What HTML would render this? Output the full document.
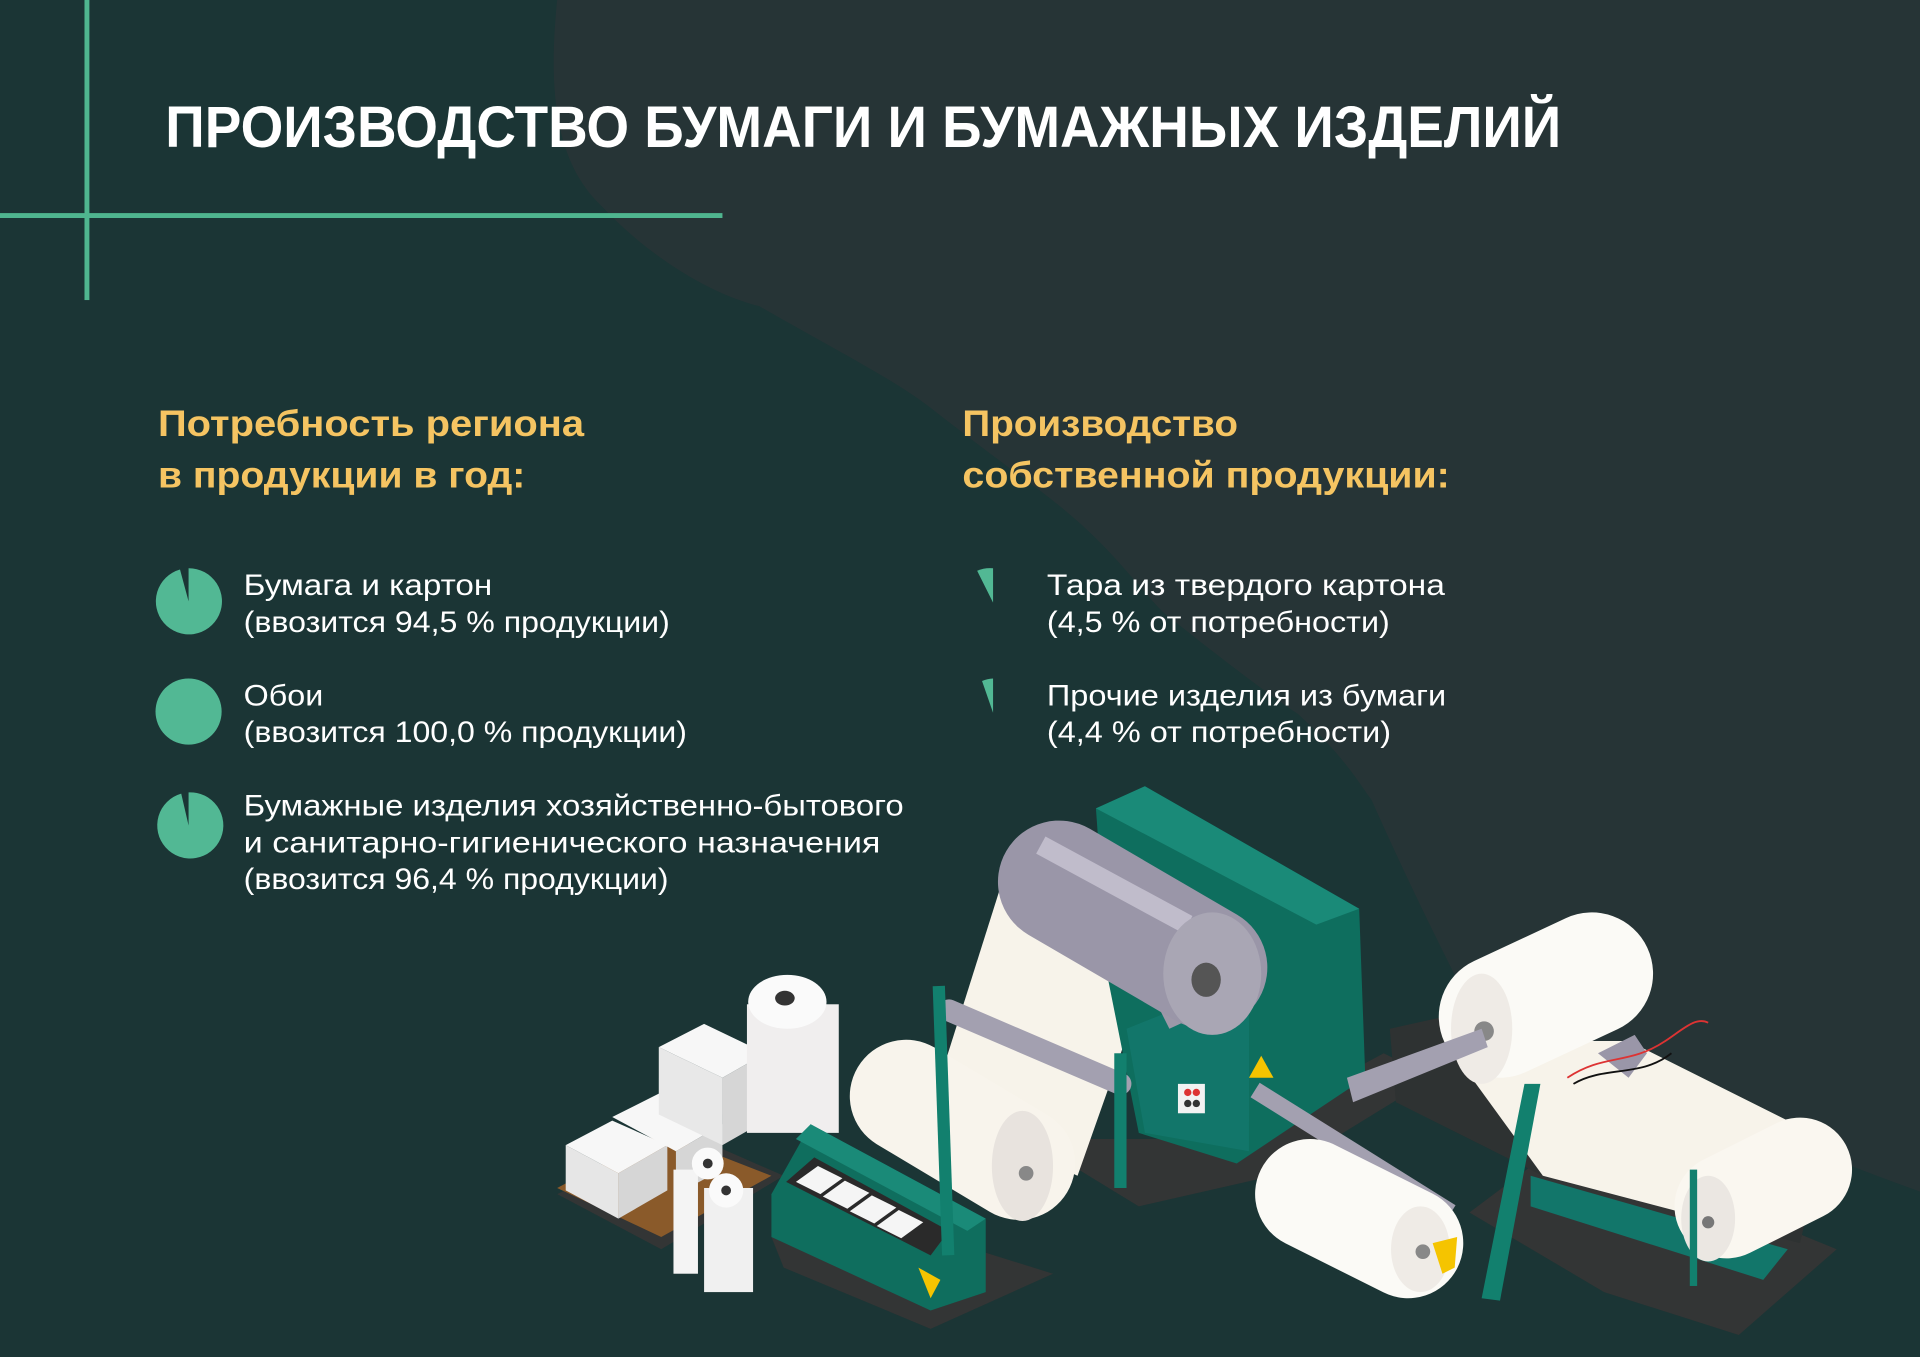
<!DOCTYPE html>
<html><head><meta charset="utf-8"><style>
html,body{margin:0;padding:0;background:#1b3535;}
svg{display:block}
text{font-family:"Liberation Sans",sans-serif}
</style></head><body>
<svg width="1920" height="1357" viewBox="0 0 1568 1108" preserveAspectRatio="none" xmlns="http://www.w3.org/2000/svg">
<rect width="1568" height="1108" fill="#1b3535"/>
<path d="M455,0 C448,70 452,130 490,167 C530,210 580,240 620,250 C690,290 730,310 760,333 C820,380 850,400 870,417 C910,450 930,480 950,500 C1000,540 1040,570 1060,583 C1100,620 1110,640 1120,653 C1150,720 1170,760 1190,800 C1300,870 1450,930 1568,973 L1568,0 Z" fill="#263436"/>
<rect x="69" y="0" width="4" height="245" fill="#4fb58f"/>
<rect x="0" y="174" width="590" height="4" fill="#4fb58f"/>
<text x="135" y="120" font-size="48" font-weight="bold" fill="#fff" textLength="1140" lengthAdjust="spacingAndGlyphs">ПРОИЗВОДСТВО БУМАГИ И БУМАЖНЫХ ИЗДЕЛИЙ</text>
<g font-size="30" font-weight="bold" fill="#f5c462">
<text x="129" y="356" textLength="348" lengthAdjust="spacingAndGlyphs">Потребность региона</text>
<text x="129" y="398" textLength="300" lengthAdjust="spacingAndGlyphs">в продукции в год:</text>
<text x="786" y="356" textLength="225" lengthAdjust="spacingAndGlyphs">Производство</text>
<text x="786" y="398" textLength="398" lengthAdjust="spacingAndGlyphs">собственной продукции:</text>
</g>
<g font-size="24" fill="#fff">
<text x="199" y="486" textLength="203" lengthAdjust="spacingAndGlyphs">Бумага и картон</text>
<text x="199" y="516" textLength="348" lengthAdjust="spacingAndGlyphs">(ввозится 94,5 % продукции)</text>
<text x="199" y="576" textLength="65" lengthAdjust="spacingAndGlyphs">Обои</text>
<text x="199" y="606" textLength="362" lengthAdjust="spacingAndGlyphs">(ввозится 100,0 % продукции)</text>
<text x="199" y="666" textLength="539" lengthAdjust="spacingAndGlyphs">Бумажные изделия хозяйственно-бытового</text>
<text x="199" y="696" textLength="520" lengthAdjust="spacingAndGlyphs">и санитарно-гигиенического назначения</text>
<text x="199" y="726" textLength="347" lengthAdjust="spacingAndGlyphs">(ввозится 96,4 % продукции)</text>
<text x="855" y="486" textLength="325" lengthAdjust="spacingAndGlyphs">Тара из твердого картона</text>
<text x="855" y="516" textLength="280" lengthAdjust="spacingAndGlyphs">(4,5 % от потребности)</text>
<text x="855" y="576" textLength="326" lengthAdjust="spacingAndGlyphs">Прочие изделия из бумаги</text>
<text x="855" y="606" textLength="281" lengthAdjust="spacingAndGlyphs">(4,4 % от потребности)</text>
</g>
<g fill="#52b894">
<path d="M154,491 L154,464 A27,27 0 1 1 147,465 Z"/>
<circle cx="154" cy="581" r="27"/>
<path d="M154,674 L154,647 A27,27 0 1 1 148,648 Z"/>
<path d="M811,492 L798,466 A27,27 0 0 1 811,464 Z"/>
<path d="M811,582 L802,556 A27,27 0 0 1 811,554 Z"/>
</g>
<g fill="#333535">
<polygon points="455,975 560,925 640,960 540,1020"/>
<polygon points="630,1010 700,990 860,1040 760,1085 640,1035"/>
<polygon points="840,930 1000,930 1130,860 1170,880 1040,960 930,985"/>
<polygon points="1200,990 1280,930 1500,1020 1420,1090 1310,1055"/>
</g>
<polygon points="455,970 540,1010 630,960 540,925" fill="#8a5a2a"/>
<g>
<polygon points="462,935 500,915 545,935 505,958" fill="#f7f7f7"/>
<polygon points="462,935 505,958 505,995 462,972" fill="#e6e6e6"/>
<polygon points="505,958 545,935 545,972 505,995" fill="#d6d6d6"/>
<polygon points="500,912 538,893 590,918 552,940" fill="#f7f7f7"/>
<polygon points="552,940 590,918 590,955 552,975" fill="#d6d6d6"/>
<polygon points="538,855 575,836 625,860 590,880" fill="#f7f7f7"/>
<polygon points="538,855 590,880 590,935 538,910" fill="#e8e8e8"/>
<polygon points="590,880 625,860 625,915 590,935" fill="#d6d6d6"/>
<rect x="610" y="820" width="75" height="105" fill="#f0eeee"/>
<ellipse cx="643" cy="818" rx="32" ry="22" fill="#fafafa"/>
<ellipse cx="641" cy="815" rx="8" ry="6" fill="#333"/>
<rect x="550" y="955" width="20" height="85" fill="#f4f4f4"/>
<rect x="575" y="970" width="40" height="85" fill="#f0f0f0"/>
<circle cx="578" cy="950" r="13" fill="#fafafa"/><circle cx="578" cy="950" r="4" fill="#333"/>
<circle cx="593" cy="972" r="14" fill="#fafafa"/><circle cx="593" cy="972" r="4" fill="#333"/>
</g>
<polygon points="630,975 662,918 805,995 805,1055 760,1070 630,1010" fill="#0f6e5e"/>
<polygon points="662,918 805,995 790,1005 650,930" fill="#1a8a78"/>
<polygon points="642,965 665,945 775,1005 760,1025" fill="#2a2a2a"/>
<g fill="#f5f5f5"><polygon points="650,965 668,952 688,962 670,975"/><polygon points="672,977 690,964 710,974 692,987"/><polygon points="694,989 712,976 732,986 714,999"/><polygon points="716,1001 734,988 754,998 736,1011"/></g>
<polygon points="750,1035 768,1045 760,1060" fill="#f5c400"/>
<!-- paper sheet -->
<polygon points="820,715 940,790 880,960 760,905" fill="#f7f3ea"/>
<!-- front roll -->
<line x1="740" y1="895" x2="832" y2="950" stroke="#f8f4ec" stroke-width="92" stroke-linecap="round"/>
<ellipse cx="835" cy="952" rx="25" ry="45" fill="#e8e3de"/>
<circle cx="838" cy="958" r="6" fill="#888"/>
<!-- main body -->
<polygon points="895,660 935,642 1110,742 1115,880 1010,950 930,925 905,800" fill="#0e6e5e"/>
<polygon points="895,660 935,642 1110,742 1075,755" fill="#1a8a78"/>
<polygon points="920,840 1020,800 1020,940 935,925" fill="#12766a"/>
<polygon points="935,800 1000,770 1020,810 955,840" fill="#9d98a8"/>
<rect x="962" y="885" width="22" height="24" fill="#f2f2f2"/>
<circle cx="970" cy="892" r="3" fill="#d33"/><circle cx="977" cy="892" r="3" fill="#d33"/><circle cx="970" cy="901" r="3" fill="#333"/><circle cx="977" cy="901" r="3" fill="#333"/>
<polygon points="1030,862 1040,880 1020,880" fill="#f5c400"/>
<!-- gray big roller -->
<line x1="865" y1="720" x2="985" y2="790" stroke="#9a96a8" stroke-width="100" stroke-linecap="round"/>
<line x1="850" y1="690" x2="970" y2="755" stroke="#c0bccb" stroke-width="16"/>
<ellipse cx="990" cy="795" rx="40" ry="50" fill="#a9a6b4"/>
<ellipse cx="985" cy="800" rx="12" ry="14" fill="#555"/>
<line x1="775" y1="825" x2="915" y2="885" stroke="#a3a0b0" stroke-width="18" stroke-linecap="round"/>
<rect x="765" y="805" width="10" height="220" fill="#12806e" transform="rotate(-2 770 900)"/>
<rect x="910" y="860" width="10" height="110" fill="#12806e"/>
<!-- right section -->
<polygon points="1135,840 1180,830 1490,930 1470,1015 1260,960 1140,900" fill="#2e3232"/>
<polygon points="1180,850 1330,850 1470,920 1450,1010 1260,960" fill="#f7f3ea"/>
<polygon points="1250,960 1460,1020 1440,1045 1250,985" fill="#12766a"/>
<line x1="1225" y1="830" x2="1300" y2="795" stroke="#fbfaf6" stroke-width="100" stroke-linecap="round"/>
<ellipse cx="1210" cy="840" rx="25" ry="45" fill="#efebe6"/>
<circle cx="1212" cy="842" r="8" fill="#888"/>
<line x1="1410" y1="985" x2="1470" y2="955" stroke="#faf7f0" stroke-width="85" stroke-linecap="round"/>
<ellipse cx="1395" cy="995" rx="22" ry="35" fill="#ebe7e2"/>
<circle cx="1395" cy="998" r="5" fill="#777"/>
<line x1="1025" y1="890" x2="1185" y2="990" stroke="#a3a0b0" stroke-width="14"/>
<line x1="1070" y1="975" x2="1150" y2="1015" stroke="#fbfaf6" stroke-width="90" stroke-linecap="round"/>
<ellipse cx="1160" cy="1020" rx="24" ry="35" fill="#efebe6"/>
<circle cx="1162" cy="1022" r="6" fill="#888"/>
<polygon points="1170,1015 1190,1010 1188,1035 1178,1040" fill="#f5c400"/>
<polygon points="1100,880 1210,840 1215,855 1105,900" fill="#a3a0b0"/>
<polygon points="1210,1060 1245,885 1258,885 1225,1062" fill="#12806e"/>
<polygon points="1305,860 1335,845 1345,860 1330,880" fill="#9a96a8"/>
<path d="M1280,880 C1310,860 1330,870 1360,850 C1375,840 1385,830 1395,835" stroke="#d33" stroke-width="1.5" fill="none"/>
<path d="M1285,885 C1310,870 1340,880 1365,860" stroke="#111" stroke-width="1.5" fill="none"/>
<rect x="1380" y="955" width="6" height="95" fill="#12806e"/>
</svg>
</body></html>
